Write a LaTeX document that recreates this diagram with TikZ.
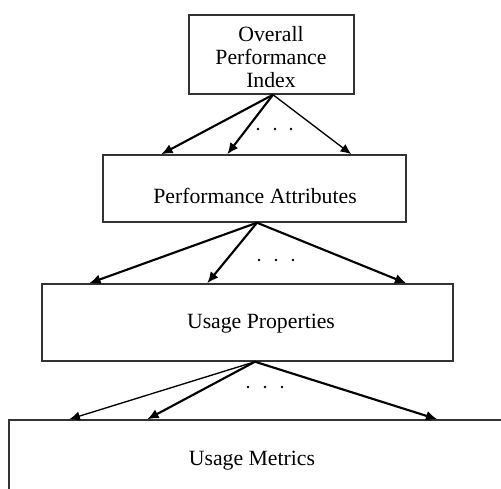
\documentclass[tikz,border=0pt]{standalone}
\usepackage{fontspec}
\setmainfont{Liberation Serif}
\usetikzlibrary{arrows.meta,calc}
\begin{document}
\begin{tikzpicture}[x=0.75pt,y=-0.75pt,
  box/.style={draw=black!80,line width=1.1pt,rectangle,inner sep=0pt},
  lbl/.style={font=\fontsize{16.3}{17.3}\selectfont,align=center,inner sep=0pt},
  arr/.style={-{Latex[length=8.5pt,width=7.5pt]},line width=1.6pt},
  arrthin/.style={-{Latex[length=8pt,width=7pt]},line width=1.0pt},
  dotc/.style={fill=black}]
\useasboundingbox (0,0) rectangle (501,489);
% boxes
\node[box,minimum width=165*0.75pt,minimum height=79*0.75pt] (b1) at (271.5,54.5) {};
\node[box,minimum width=303*0.75pt,minimum height=67*0.75pt] (b2) at (254.5,188.5) {};
\node[box,minimum width=411*0.75pt,minimum height=77*0.75pt] (b3) at (247.5,322.5) {};
\node[box,minimum width=511*0.75pt,minimum height=100*0.75pt] (b4) at (264.5,470) {};
% labels
\node[lbl] (t1) at (271,57) {Overall\\Performance\\Index};
\node[lbl] (t2) at (255,196) {Performance Attributes};
\node[lbl] (t3) at (261,324) {Usage Properties};
\node[lbl] (t4) at (252,461) {Usage Metrics};
% apex coordinates
\coordinate (a1) at ($(b1.south)+(1.5,0)$);
\coordinate (a2) at ($(b2.south)+(2.5,0)$);
\coordinate (a3) at ($(b3.south)+(7.5,0)$);
% arrows level 1
\draw[arr] (a1) -- ($(b2.north west)+(59,0)$);
\draw[arr] (a1) -- ($(b2.north west)+(125,0)$);
\draw[arrthin] (a1) -- ($(b2.north west)+(249,0)$);
% arrows level 2
\draw[arr] (a2) -- ($(b3.north west)+(48,0)$);
\draw[arr] (a2) -- ($(b3.north west)+(166,0)$);
\draw[arr] (a2) -- ($(b3.north west)+(365,0)$);
% arrows level 3
\draw[arrthin] (a3) -- ($(b4.north west)+(61,0)$);
\draw[arr] (a3) -- ($(b4.north west)+(139,0)$);
\draw[arr] (a3) -- ($(b4.north west)+(429,0)$);
% dots
\fill[dotc] (258,129) circle[radius=1.4] (275,129) circle[radius=1.4] (291,129) circle[radius=1.4];
\fill[dotc] (259,260) circle[radius=1.4] (276,260) circle[radius=1.4] (293,260) circle[radius=1.4];
\fill[dotc] (248,387) circle[radius=1.4] (265,387) circle[radius=1.4] (282,387) circle[radius=1.4];
\end{tikzpicture}
\end{document}
